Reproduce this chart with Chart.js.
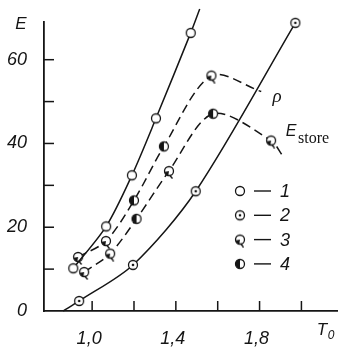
<!DOCTYPE html>
<html>
<head>
<meta charset="utf-8">
<script src="https://cdn.jsdelivr.net/npm/chart.js@4.4.0/dist/chart.umd.min.js"></script>
<style>
    html, body { margin: 0; padding: 0; background: #fff; }
    #wrap { width: 354px; height: 350px; }
</style>
</head>
<body>
<div id="wrap"><canvas id="chart"></canvas></div>
<script>
// axis ticks
var xTicks = [1.0, 1.2, 1.4, 1.6, 1.8, 2.0];
var xLabelled = [1.0, 1.4, 1.8];
var yTicks = [0, 10, 20, 30, 40, 50, 60];
var yLabelled = [0, 20, 40, 60];

// curve 1 - open circles, solid
var curve1T = [0.910, 1.067, 1.190, 1.305, 1.471, 1.514];
var curve1E = [10.2, 20.2, 32.4, 46.0, 66.4, 72.1];
var curve1Mark = [1, 1, 1, 1, 1, 0];

// curve 2 - dotted circles, solid
var curve2T = [0.862, 0.938, 1.195, 1.495, 1.971];
var curve2E = [0, 2.4, 11.0, 28.6, 68.8];
var curve2Mark = [0, 2, 2, 2, 2];

// rho - dashed
var rhoT = [0.933, 1.066, 1.200, 1.343, 1.570, 1.808];
var rhoE = [12.9, 16.7, 26.4, 39.3, 56.2, 52.4];
var rhoMark = [3, 3, 4, 4, 3, 0];

// E store - dashed
var storeT = [0.962, 1.086, 1.212, 1.367, 1.578, 1.855, 1.910];
var storeE = [9.3, 13.7, 22.0, 33.4, 47.1, 40.7, 37.1];
var storeMark = [3, 3, 4, 3, 4, 3, 0];

var legendMarks = [1, 2, 3, 4];
var legendNames = ['1', '2', '3', '4'];

var ink = '#151515';
var numFont = "'Liberation Sans Narrow', 'Liberation Sans', sans-serif";

function makeMarker(kind) {
    var c = document.createElement('canvas');
    c.width = 16; c.height = 16;
    var g = c.getContext('2d');
    var cx = 8, cy = 8, r = 4.5;
    g.lineWidth = 1.3;
    g.strokeStyle = ink;
    g.fillStyle = '#fff';
    g.beginPath(); g.arc(cx, cy, r, 0, Math.PI * 2); g.fill(); g.stroke();
    g.fillStyle = ink;
    if (kind === 2) {
        g.beginPath(); g.arc(cx, cy, 1.3, 0, Math.PI * 2); g.fill();
    }
    if (kind === 3) {
        g.beginPath(); g.arc(cx, cy, r, Math.PI * 0.55, Math.PI * 0.95); g.lineTo(cx, cy); g.closePath(); g.fill();
        g.beginPath(); g.moveTo(cx + 1, cy + r); g.lineTo(cx + 3.5, cy + 7.5); g.stroke();
    }
    if (kind === 4) {
        g.beginPath(); g.moveTo(cx, cy - r); g.arc(cx, cy, r, -Math.PI / 2, Math.PI / 2, true); g.closePath(); g.fill();
    }
    return c;
}

var markers = [null, makeMarker(1), makeMarker(2), makeMarker(3), makeMarker(4)];

function buildDataset(ts, es, marks, dashed) {
    return {
        data: ts.map(function (t, i) { return {x: t, y: es[i]}; }),
        showLine: true,
        borderColor: ink,
        borderWidth: 1.5,
        borderDash: dashed ? [9, 5] : [],
        tension: 0.3,
        pointStyle: marks.map(function (m) { return m ? markers[m] : 'circle'; }),
        pointRadius: marks.map(function (m) { return m ? 5 : 0; }),
        clip: false
    };
}

function near(list, v) {
    return list.some(function (a) { return Math.abs(a - v) < 1e-6; });
}

var decorPlugin = {
    id: 'decor',
    afterDraw: function (chart) {
        var ctx = chart.ctx, xs = chart.scales.x, ys = chart.scales.y, area = chart.chartArea;
        ctx.save();
        ctx.strokeStyle = ink;
        ctx.lineWidth = 1.5;
        yTicks.forEach(function (v) {
            if (v === 0) return;
            var py = ys.getPixelForValue(v);
            ctx.beginPath(); ctx.moveTo(area.left, py); ctx.lineTo(area.left + 10, py); ctx.stroke();
        });
        xTicks.forEach(function (v) {
            var px = xs.getPixelForValue(v);
            ctx.beginPath(); ctx.moveTo(px, area.bottom); ctx.lineTo(px, area.bottom - 10); ctx.stroke();
        });

        ctx.fillStyle = ink;
        ctx.textBaseline = 'middle';
        ctx.textAlign = 'center';
        // axis titles
        ctx.font = 'italic 17px ' + numFont;
        ctx.fillText('E', 21, 24);
        ctx.fillText('T', 322, 330);
        ctx.font = 'italic 12px ' + numFont;
        ctx.fillText('0', 331, 336);

        // curve names
        ctx.font = 'italic 19px "Liberation Serif", serif';
        ctx.fillText('ρ', 277, 97);
        ctx.font = 'italic 16px ' + numFont;
        ctx.fillText('E', 291, 132);
        ctx.textAlign = 'left';
        ctx.font = '16px "Liberation Serif", serif';
        ctx.fillText('store', 298, 139);

        // legend
        legendMarks.forEach(function (m, i) {
            var py = 191 + i * 24.3;
            var img = markers[m];
            ctx.drawImage(img, 240 - img.width / 2, py - img.height / 2);
            ctx.lineWidth = 1.4;
            ctx.beginPath(); ctx.moveTo(254, py); ctx.lineTo(271, py); ctx.stroke();
            ctx.textAlign = 'center';
            ctx.font = 'italic 18px ' + numFont;
            ctx.fillText(legendNames[i], 285, py + 1);
        });
        ctx.restore();
    }
};

var ctx = document.getElementById('chart').getContext('2d');
var chart = new Chart(ctx, {
    type: 'scatter',
    data: {
        datasets: [
            buildDataset(curve1T, curve1E, curve1Mark, false),
            buildDataset(curve2T, curve2E, curve2Mark, false),
            buildDataset(rhoT, rhoE, rhoMark, true),
            buildDataset(storeT, storeE, storeMark, true)
        ]
    },
    options: {
        responsive: true, maintainAspectRatio: false, animation: false,
        layout: {padding: {top: 22, right: 17, left: 0, bottom: 0}},
        plugins: {
            legend: {display: false},
            tooltip: {enabled: false}
        },
        scales: {
            x: {
                type: 'linear', min: 0.77, max: 2.17,
                afterBuildTicks: function (scale) {
                    scale.ticks = xTicks.map(function (v) { return {value: v}; });
                },
                afterFit: function (scale) { scale.height = 39; },
                grid: {display: false},
                border: {display: true, color: ink, width: 1.8},
                ticks: {
                    autoSkip: false, maxRotation: 0, padding: 9, color: ink, labelOffset: -3,
                    font: {family: numFont, size: 18, style: 'italic'},
                    callback: function (v) {
                        return near(xLabelled, v) ? v.toFixed(1).replace('.', ',') : '';
                    }
                }
            },
            y: {
                type: 'linear', min: 0, max: 69,
                afterBuildTicks: function (scale) {
                    scale.ticks = yTicks.map(function (v) { return {value: v}; });
                },
                afterFit: function (scale) { scale.width = 44; },
                grid: {display: false},
                border: {display: true, color: ink, width: 1.8},
                ticks: {
                    autoSkip: false, padding: 9, color: ink,
                    font: {family: numFont, size: 18, style: 'italic'},
                    callback: function (v) {
                        return near(yLabelled, v) ? String(v) : '';
                    }
                }
            }
        }
    },
    plugins: [decorPlugin]
});
</script>
</body>
</html>
